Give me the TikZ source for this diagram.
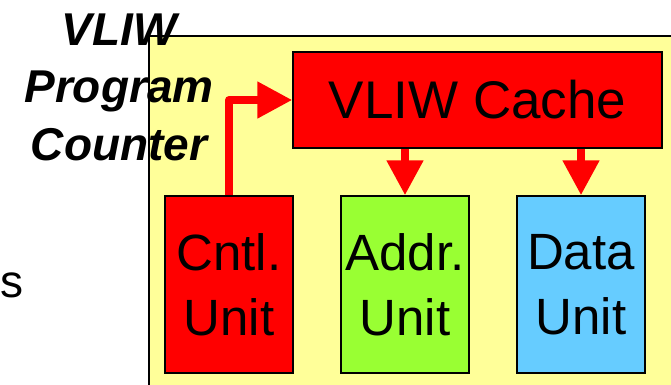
\documentclass[tikz,border=0pt]{standalone}
\usepackage{fontspec}
\setmainfont{Liberation Sans}
\usetikzlibrary{arrows.meta}
\definecolor{panelyellow}{HTML}{FFFF99}
\definecolor{cachered}{HTML}{FF0000}
\definecolor{addrgreen}{HTML}{99FF33}
\definecolor{datablue}{HTML}{66CCFF}
\tikzset{
  unitbox/.style={draw=black, line width=1.5pt, minimum width=128pt, minimum height=177pt,
    inner sep=0pt, align=center, font=\fontsize{51}{65}\selectfont},
  flow/.style={draw=cachered, line width=8pt, line join=round,
    -{Triangle[width=35pt,length=35pt]}}
}
\begin{document}
\begin{tikzpicture}[x=1pt,y=-1pt]
\useasboundingbox (0,0) rectangle (671,384);
\clip (0,0) rectangle (671,384);
% pale yellow processor panel
\filldraw[fill=panelyellow, draw=black, line width=2pt] (149,36) rectangle (700,420);
% cache and functional units
\node[draw=black, line width=1.5pt, fill=cachered, minimum width=369pt, minimum height=96pt,
  inner sep=0pt, font=\fontsize{53}{60}\selectfont] (cache) at (477.5,100) {VLIW Cache};
\node[unitbox, fill=cachered] (cntl) at (229,284.5) {Cntl.\\Unit};
\node[unitbox, fill=addrgreen] (addr) at (405,284.5) {Addr.\\Unit};
\node[unitbox, fill=datablue] (data) at (581,284.5) {Data\\Unit};
% instruction flow
\draw[flow] (cntl.north) |- (cache.west);
\draw[flow] (cache.south -| addr.north) -- (addr.north);
\draw[flow] (cache.south -| data.north) -- (data.north);
% labels
\node[font=\fontsize{46}{57.5}\selectfont\bfseries\itshape, align=center, inner sep=0pt]
  (pc) at (119,87) {VLIW\\Program\\Counter};
\node[font=\fontsize{46}{55}\selectfont, inner sep=0pt, anchor=base east] (s) at (23.5,297) {s};
\end{tikzpicture}
\end{document}
